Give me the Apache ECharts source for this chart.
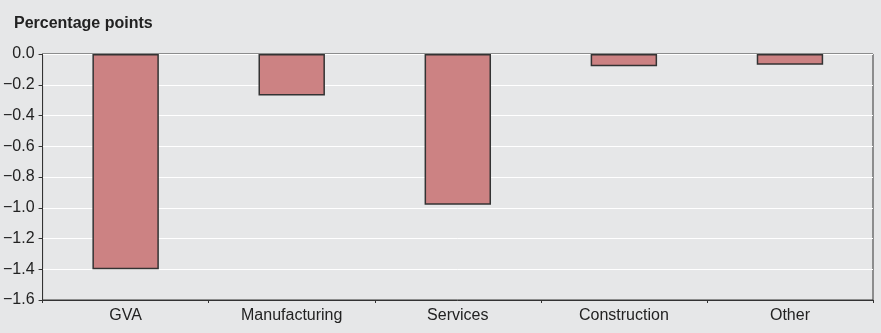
<!DOCTYPE html>
<html>
<head>
<meta charset="utf-8">
<script src="https://cdn.jsdelivr.net/npm/echarts@6/dist/echarts.min.js"></script>
<style>
html,body{margin:0;padding:0;background:#e6e7e8;}
#c{width:881px;height:333px;}
</style>
</head>
<body>
<div id="c"></div>
<script>
var categories = ["GVA", "Manufacturing", "Services", "Construction", "Other"];
var values = [-1.40, -0.27, -0.98, -0.08, -0.07];
var yTicks = {min: -1.6, max: 0, interval: 0.2};

var chart = echarts.init(document.getElementById('c'), null, {renderer: 'canvas'});
var fontFam = '"Liberation Sans", Arial, sans-serif';
chart.setOption({
  backgroundColor: '#e6e7e8',
  animation: false,
  title: {
    text: 'Percentage points',
    left: 9, top: 11,
    textStyle: {fontFamily: fontFam, fontSize: 16, fontWeight: 'bold', color: '#222'}
  },
  grid: {left: 42, right: 8, top: 54, bottom: 33, show: true, borderColor: '#333', borderWidth: 1, backgroundColor: 'transparent'},
  xAxis: {
    type: 'category',
    data: categories,
    axisLine: {onZero: false, lineStyle: {color: '#333', width: 1}},
    axisTick: {show: true, inside: false, length: 3, lineStyle: {color: '#333'}},
    axisLabel: {fontFamily: fontFam, fontSize: 16, color: '#222', margin: 8}
  },
  yAxis: {
    type: 'value',
    min: yTicks.min, max: yTicks.max, interval: yTicks.interval,
    axisLine: {show: true, lineStyle: {color: '#333', width: 1}},
    axisTick: {show: true, length: 4, lineStyle: {color: '#333'}},
    splitLine: {show: true, lineStyle: {color: '#ffffff', width: 1}},
    axisLabel: {
      fontFamily: fontFam, fontSize: 16, color: '#222', margin: 8,
      formatter: function (v) {
        var s = Math.abs(v).toFixed(1);
        return (v < -1e-9 ? '\u2212' : '') + s;
      }
    }
  },
  series: [{
    type: 'bar',
    data: values,
    barWidth: '40%',
    itemStyle: {color: '#cc8283', borderColor: '#333', borderWidth: 1.5}
  }]
});
</script>
</body>
</html>
